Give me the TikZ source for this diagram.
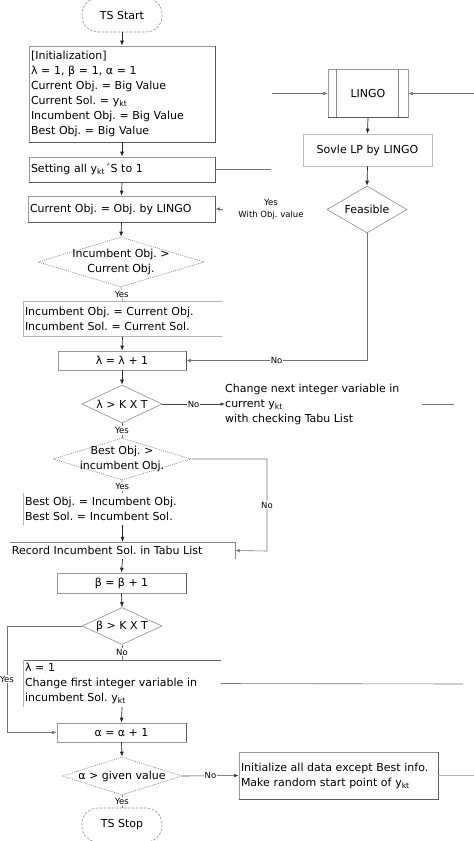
\documentclass[tikz,border=0pt]{standalone}
\usepackage{fontspec}
\setmainfont{DejaVu Sans}
\usetikzlibrary{shapes.geometric,arrows.meta}
\frenchspacing
\begin{document}
\begin{tikzpicture}[x=1pt,y=-1pt,
  every node/.style={font=\fontsize{11}{15}\selectfont, inner sep=0pt},
  box/.style={draw=black!40, line width=0.6pt, rectangle, inner sep=2pt},
  plainbox/.style={rectangle, inner sep=2pt},
  dia/.style={diamond, draw=black!45, line width=0.6pt, inner sep=0pt},
  ddia/.style={dia, draw=black!50, dash pattern=on 1pt off 1pt},
  term/.style={draw=black!45, line width=0.6pt, dash pattern=on 2.5pt off 1.5pt, rounded corners=16pt, minimum width=80pt, minimum height=34pt},
  arr/.style={-{Latex[length=5pt,width=4pt]}, black!85, line width=0.7pt},
  con/.style={black!55, line width=0.6pt},
  tip/.style={-{Latex[length=4.5pt,width=3.5pt]}},
  lab/.style={font=\fontsize{8.5}{10}\selectfont, fill=white, text=black, inner sep=1pt},
  small/.style={font=\fontsize{8.5}{12}\selectfont},
  edge/.style={black!65, line width=0.6pt}
]
\useasboundingbox (0,0) rectangle (474,841);

% ---------- left column ----------
\node[term] (start) at (122,15) {TS Start};

\node[box, minimum width=186pt, minimum height=96pt, text width=182pt, align=left] (init) at (122,94)
  {[Initialization]\\
   λ = 1, β = 1, α = 1\\
   Current Obj. = Big Value\\
   Current Sol. = y\textsubscript{kt}\\
   Incumbent Obj. = Big Value\\
   Best Obj. = Big Value};
\draw[edge] (init.south west) -- (init.south east) -- (init.north east);

\node[box, minimum width=186pt, minimum height=25pt, text width=182pt, align=left] (set) at (122,169.5)
  {Setting all y\textsubscript{kt}´S to 1};
\draw[edge] (set.south west) -- (set.south east) -- (set.north east);

\node[box, minimum width=187pt, minimum height=26pt, text width=183pt, align=left] (cur) at (121.5,209)
  {Current Obj. = Obj. by LINGO};
\draw[edge] (cur.south west) -- (cur.south east) -- (cur.north east);

\node[ddia, minimum width=166pt, minimum height=50pt] (d1) at (121,262) {};
\node[align=center] (d1t) at (d1.center) {Incumbent Obj. >\\Current Obj.};

\node[plainbox, minimum width=199pt, minimum height=35pt, text width=195pt, align=left] (inc) at (122.5,319)
  {Incumbent Obj. = Current Obj.\\Incumbent Sol. = Current Sol.};
\draw[black!30, line width=0.6pt] (inc.north east) -- (inc.north west) -- (inc.south west) -- (inc.south east);

\node[box, minimum width=128pt, minimum height=19pt] (lam) at (122,360.5) {λ = λ + 1};
\draw[edge] (lam.south east) -- (lam.north east);

\node[dia, minimum width=80pt, minimum height=38pt] (ld) at (122,404) {};
\node (ldt) at (ld.center) {λ > K X T};

\node[anchor=west, align=left] (chg) at (225,404)
  {Change next integer variable in\\current y\textsubscript{kt}\\with checking Tabu List};

\node[ddia, minimum width=138pt, minimum height=42pt] (bd) at (122,459) {};
\node[align=center] (bdt) at (bd.center) {Best Obj. >\\incumbent Obj.};

\node[plainbox, minimum width=199pt, minimum height=32pt, text width=195pt, align=left] (best) at (122.5,509)
  {Best Obj. = Incumbent Obj.\\Best Sol. = Incumbent Sol.};
\draw[black!30, line width=0.6pt] (best.north west) -- (best.south west);

\node[plainbox, minimum width=225pt, minimum height=17pt, text width=221pt, align=left] (rec) at (122.5,550.5)
  {Record Incumbent Sol. in Tabu List};
\draw[black!45, line width=0.6pt] (rec.north west) -- (rec.north east) -- (rec.south east);

\node[box, minimum width=129pt, minimum height=20pt] (bet) at (121.5,583) {β = β + 1};
\draw[edge] (bet.south east) -- (bet.north east);

\node[dia, minimum width=80pt, minimum height=37pt] (bdia) at (122,626) {};
\node (bdiat) at (bdia.center) {β > K X T};

\node[plainbox, minimum width=198pt, minimum height=47pt, text width=194pt, align=left] (l1) at (122,683.5)
  {λ = 1\\Change first integer variable in\\incumbent Sol. y\textsubscript{kt}};
\draw[black!60, line width=0.6pt] (l1.north east) -- (l1.north west);
\draw[black!30, line width=0.6pt] (l1.north west) -- (l1.south west);

\node[box, minimum width=129pt, minimum height=19pt] (alp) at (121.5,732.5) {α = α + 1};
\draw[edge] (alp.south east) -- (alp.north east);

\node[ddia, minimum width=120pt, minimum height=38pt] (ad) at (122,776) {};
\node (adt) at (ad.center) {α > given value};

\node[box, minimum width=199pt, minimum height=47pt, text width=195pt, align=left] (ini) at (338.5,775.5)
  {Initialize all data except Best info.\\Make random start point of y\textsubscript{kt}};
\draw[edge] (ini.south west) -- (ini.south east) -- (ini.north east);

\node[term] (stop) at (122,825) {TS Stop};

% ---------- right column ----------
\node[box, minimum width=80pt, minimum height=48pt] (lingo) at (368,93.5) {LINGO};
\draw[black!45, line width=0.6pt] ([xshift=9pt]lingo.north west) -- ([xshift=9pt]lingo.south west);
\draw[black!45, line width=0.6pt] ([xshift=-10pt]lingo.north east) -- ([xshift=-10pt]lingo.south east);
\draw[edge, line width=0.9pt] (lingo.south west) -- (lingo.south east);

\node[box, draw=black!25, minimum width=129pt, minimum height=32pt] (lp) at (367.5,150) {Sovle LP by LINGO};

\node[dia, minimum width=80pt, minimum height=47pt] (feas) at (367,209.5) {};
\node (feast) at (feas.center) {Feasible};

\node[small, align=center] (yesw) at (271,209) {Yes\\With Obj. value};

% ---------- coordinates ----------
\coordinate (cY) at (223,209);
\coordinate (cL1) at (272,93.5);
\coordinate (cL2) at (474,93.5);
\coordinate (cS) at (271,169.5);
\coordinate (cB1) at (267,459);
\coordinate (cB2) at (267,551);
\coordinate (cK1) at (7,626);
\coordinate (cK2) at (7,732.5);
\coordinate (cC1) at (422,404);
\coordinate (cC2) at (454,404);
\coordinate (cF) at (463,684);
\coordinate (cI) at (474,775.5);

% ---------- main arrows ----------
\draw[arr] (start.south) -- (init.north);
\draw[arr] (init.south) -- (set.north);
\draw[arr] (set.south) -- (cur.north);
\draw[arr] (cur.south) -- (d1.north);
\draw[con] (d1.south) -- node[lab] {Yes} (inc.north);
\draw[arr] (inc.south) -- (lam.north);
\draw[arr] (lam.south) -- (ld.north);
\draw[con] (ld.south) -- node[lab] {Yes} (bd.north);
\draw[con] (bd.south) -- node[lab] {Yes} (best.north);
\draw[arr] (best.south) -- (rec.north);
\draw[arr] (rec.south) -- (bet.north);
\draw[arr] (bet.south) -- (bdia.north);
\draw[con] (bdia.south) -- node[lab] {No} (l1.north);
\draw[arr] (l1.south) -- (alp.north);
\draw[arr] (alp.south) -- (ad.north);
\draw[con] (ad.south) -- node[lab] {Yes} (stop.north);
\draw[arr] (lingo.south) -- (lp.north);
\draw[arr] (lp.south) -- (feas.north);

% ---------- side connectors ----------
\draw[con, tip] (feas.south) |- node[lab, pos=0.75] {No} (lam.east);
\draw[con, tip] (cY) -- (cur.east);
\draw[con, tip] (cL1) -- (lingo.west);
\draw[con, tip] (cL2) -- (lingo.east);
\draw[con] (set.east) -- (cS);
\draw[con, black!75, tip] (ld.east) -- node[lab] {No} (chg.west);
\draw[con] (cC1) -- (cC2);
\draw[con, tip] (bd.east) -- (cB1) -- node[lab] {No} (cB2) -- (rec.east);
\draw[con, tip] (bdia.west) -- (cK1) -- node[lab] {Yes} (cK2) -- (alp.west);
\draw[con] (l1.east) -- (cF);
\draw[con, black!75, tip] (ad.east) -- node[lab] {No} (ini.west);
\draw[con, black!30] (ini.east) -- (cI);
\end{tikzpicture}
\end{document}
